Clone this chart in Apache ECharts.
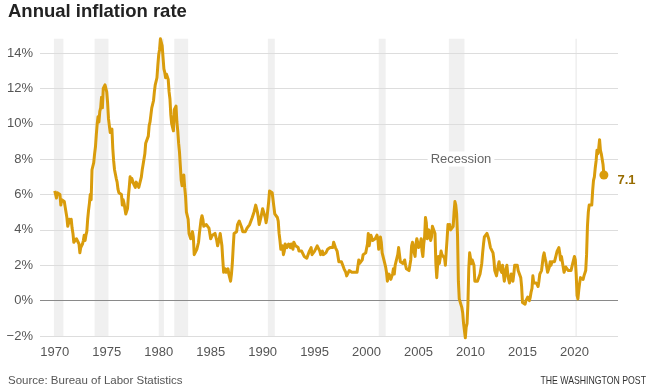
<!DOCTYPE html>
<html>
<head>
<meta charset="utf-8">
<script src="https://cdn.jsdelivr.net/npm/echarts@6/dist/echarts.min.js"></script>
<style>
html,body{margin:0;padding:0;background:#fff;}
#chart{width:654px;height:392px;}
</style>
</head>
<body>
<div id="chart"></div>
<script>
// Monthly year-over-year CPI change (%), starting January 1970
const startYear = 1970;
const cpi1970s = [
6.2,6.2,5.8,6.1,6.0,6.0,6.0,5.4,5.7,5.6,5.6,5.6,
5.3,5.0,4.7,4.2,4.4,4.6,4.4,4.6,4.1,3.8,3.3,3.3,
3.3,3.5,3.5,3.5,3.2,2.7,3.0,2.9,3.2,3.4,3.7,3.4,
3.7,3.9,4.6,5.1,5.5,6.0,5.7,7.4,7.4,7.8,8.3,8.7,
9.4,10.0,10.4,10.1,10.7,10.9,11.5,10.9,12.0,12.1,12.2,12.3,
11.8,11.2,10.3,10.2,9.5,9.4,9.7,8.6,7.9,7.4,7.4,6.9,
6.7,6.3,6.1,6.1,6.2,6.0,5.4,5.7,5.5,5.5,4.9,4.9,
5.2,5.9,6.4,7.0,6.7,6.9,6.8,6.6,6.6,6.4,6.7,6.7,
6.8,6.4,6.6,6.5,7.0,7.4,7.7,7.8,8.3,8.9,8.9,9.0,
9.3,9.9,10.1,10.5,10.9,10.9,11.3,11.8,12.2,12.1,12.6,13.3
];
const cpi1980s = [
13.9,14.2,14.8,14.7,14.4,14.4,13.1,12.9,12.6,12.8,12.7,12.5,
11.8,11.4,10.5,10.0,9.8,9.6,10.8,10.8,11.0,10.1,9.6,8.9,
8.4,7.6,6.8,6.5,6.7,7.1,6.4,5.9,5.0,5.1,4.6,3.8,
3.7,3.5,3.6,3.9,3.6,2.6,2.5,2.6,2.9,2.9,3.3,3.8,
4.2,4.6,4.8,4.6,4.2,4.2,4.2,4.3,4.3,4.3,4.1,4.0,
3.5,3.5,3.7,3.7,3.8,3.8,3.6,3.4,3.1,3.2,3.5,3.8,
3.9,3.1,2.3,1.6,1.5,1.8,1.6,1.6,1.8,1.5,1.3,1.1,
1.5,2.1,3.0,3.8,3.9,3.7,3.9,4.3,4.4,4.5,4.5,4.4,
4.1,3.9,3.9,3.9,3.9,4.0,4.1,4.0,4.2,4.3,4.3,4.4,
4.7,4.8,5.0,5.1,5.4,5.2,5.0,4.7,4.3,4.5,4.7,4.7
];
const cpi1990s = [
5.2,5.3,5.2,4.7,4.4,4.7,4.8,5.6,6.2,6.3,6.3,6.1,
5.7,5.3,4.9,4.9,5.0,4.7,4.5,3.8,3.4,2.9,3.0,3.1,
2.6,2.8,3.2,3.2,3.0,3.1,3.2,3.2,3.0,3.2,3.1,2.9,
3.3,3.3,3.1,3.2,3.2,3.0,2.8,2.8,2.7,2.8,2.7,2.8,
2.5,2.5,2.5,2.4,2.3,2.5,2.8,2.9,3.0,2.6,2.7,2.7,
2.8,2.9,2.9,3.1,3.2,3.0,2.8,2.6,2.5,2.8,2.6,2.5,
2.7,2.7,2.8,2.9,2.9,2.8,3.0,2.9,3.0,3.0,3.3,3.3,
3.0,3.0,2.8,2.5,2.2,2.3,2.2,2.2,2.2,2.1,1.8,1.7,
1.6,1.4,1.4,1.4,1.7,1.7,1.7,1.6,1.5,1.5,1.6,1.6,
1.7,1.6,1.7,2.3,2.1,2.0,2.1,2.3,2.6,2.6,2.6,2.7
];
const cpi2000s = [
2.7,3.2,3.8,3.1,3.2,3.7,3.7,3.4,3.5,3.5,3.5,3.4,
3.7,3.5,2.9,3.3,3.6,3.3,2.7,2.7,2.7,2.1,1.9,1.6,
1.1,1.1,1.5,1.6,1.2,1.1,1.5,1.8,1.5,2.0,2.2,2.4,
2.6,3.0,3.0,2.2,2.1,2.1,2.1,2.2,2.3,2.0,1.8,1.9,
1.9,1.7,1.7,2.3,3.1,3.3,3.0,2.7,2.5,3.2,3.5,3.3,
3.0,3.0,3.2,3.5,2.8,2.5,3.2,3.6,4.7,4.4,3.5,3.4,
4.0,3.6,3.4,3.6,4.2,4.3,4.2,3.8,2.1,1.3,2.0,2.5,
2.1,2.4,2.8,2.6,2.7,2.7,2.4,2.0,2.8,3.5,4.3,4.1,
4.3,4.0,4.0,3.9,4.2,5.0,5.6,5.4,4.9,3.7,1.1,0.1,
0.0,0.2,-0.4,-0.7,-1.3,-1.4,-2.1,-1.5,-1.3,-0.2,1.8,2.7
];
const cpi2010s = [
2.6,2.1,2.3,2.2,2.0,1.1,1.2,1.2,1.1,1.2,1.1,1.5,
1.6,2.1,2.7,3.2,3.6,3.6,3.6,3.8,3.9,3.5,3.4,3.0,
2.9,2.9,2.7,2.3,1.7,1.7,1.4,1.7,2.0,2.2,1.8,1.7,
1.6,2.0,1.5,1.1,1.4,1.8,2.0,1.5,1.2,1.0,1.2,1.5,
1.6,1.1,1.5,2.0,2.1,2.1,2.0,1.7,1.7,1.7,1.3,0.8,
-0.1,0.0,-0.1,-0.2,0.0,0.1,0.2,0.2,0.0,0.2,0.5,0.7,
1.4,1.0,0.9,1.1,1.0,1.0,0.8,1.1,1.5,1.6,1.7,2.1,
2.5,2.7,2.4,2.2,1.9,1.6,1.7,1.9,2.2,2.0,2.2,2.1,
2.1,2.2,2.4,2.5,2.8,2.9,3.0,2.7,2.3,2.5,2.2,1.9,
1.6,1.5,1.9,2.0,1.8,1.7,1.8,1.8,1.7,1.8,2.1,2.3
];
const cpi2020s = [
2.5,2.3,1.5,0.3,0.1,0.6,1.0,1.3,1.4,1.2,1.2,1.4,
1.4,1.7,2.6,4.2,5.0,5.4,5.4,5.3,5.4,6.2,6.8,7.0,
7.5,7.9,8.5,8.3,8.6,9.1,8.5,8.3,8.2,7.7,7.1
];

// NBER recessions (year-month)
const recessionStart = ['1969-12','1973-11','1980-01','1981-07','1990-07','2001-03','2007-12','2020-02'];
const recessionEnd   = ['1970-11','1975-03','1980-07','1982-11','1991-03','2001-11','2009-06','2020-04'];

const yearTicks = [1970,1975,1980,1985,1990,1995,2000,2005,2010,2015,2020];
const yTicks = [-2,0,2,4,6,8,10,12,14];

const allValues = [].concat(cpi1970s, cpi1980s, cpi1990s, cpi2000s, cpi2010s, cpi2020s);
const linePoints = allValues.map((v, i) => [startYear + i / 12, v]);
const lastPoint = linePoints[linePoints.length - 1];
const dataMax = Math.max.apply(null, allValues);

function ymToYear(s) { const p = s.split('-'); return +p[0] + (+p[1] - 1) / 12; }
const bands = recessionStart.map((s, i) => [ymToYear(s), ymToYear(recessionEnd[i]), yTicks[0], dataMax]);

const FONT = '"Liberation Sans", Arial, sans-serif';
const LINE = '#d99c0c';

const chart = echarts.init(document.getElementById('chart'), null, {renderer: 'canvas'});
chart.setOption({
  animation: false,
  backgroundColor: '#fff',
  textStyle: {fontFamily: FONT},
  title: {
    text: 'Annual inflation rate',
    left: 8, top: 2, padding: 0,
    textStyle: {fontFamily: FONT, fontSize: 18.5, fontWeight: 'bold', color: '#222'}
  },
  grid: {left: 40, right: 36, top: 53, bottom: 56, containLabel: false},
  xAxis: {
    type: 'value',
    min: 1968.58, max: 2024.19,
    axisLine: {show: false},
    axisTick: {show: false},
    splitLine: {show: false},
    axisLabel: {
      customValues: yearTicks,
      margin: 10,
      fontSize: 13, color: '#555', fontFamily: FONT,
      formatter: v => String(v)
    }
  },
  yAxis: {
    type: 'value',
    min: -2, max: 14, interval: 2,
    axisLine: {show: false},
    axisTick: {show: false},
    axisLabel: {
      margin: 7, fontSize: 13, color: '#555', fontFamily: FONT,
      formatter: v => (v < 0 ? '\u2212' + Math.abs(v) : v) + '%'
    },
    splitLine: {
      show: true,
      lineStyle: {
        color: yTicks.map(t => t === 0 ? '#8a8a8a' : '#dddddd'),
        width: 1
      }
    }
  },
  graphic: [
    {type: 'text', x: 8, y: 381, style: {text: 'Source: Bureau of Labor Statistics', font: '11.5px ' + FONT, fill: '#555', verticalAlign: 'middle'}},
    {type: 'text', x: 646, y: 381, scaleX: 0.83, originX: 0, originY: 0, style: {text: 'THE WASHINGTON POST', font: '10.5px ' + FONT, fill: '#333', align: 'right', verticalAlign: 'middle'}},
    {type: 'text', x: 461, y: 159, z: 10, style: {
      text: 'Recession', font: '13px ' + FONT, fill: '#666',
      align: 'center', verticalAlign: 'middle',
      backgroundColor: '#fff', padding: [1, 3]
    }}
  ],
  series: [
    {
      type: 'custom',
      z: -1,
      silent: true,
      clip: false,
      encode: {x: [0, 1], y: [2, 3]},
      data: bands,
      renderItem: function (params, api) {
        const p0 = api.coord([api.value(0), api.value(3)]);
        const p1 = api.coord([api.value(1), api.value(2)]);
        return {
          type: 'rect',
          shape: {x: p0[0], y: p0[1], width: Math.max(p1[0] - p0[0], 1.5), height: p1[1] - p0[1]},
          style: {fill: '#f0f0f0'}
        };
      }
    },
    {
      type: 'line',
      z: 3,
      data: linePoints,
      showSymbol: false,
      clip: false,
      lineStyle: {color: LINE, width: 3, join: 'round'},
      itemStyle: {color: LINE}
    },
    {
      type: 'scatter',
      z: 4,
      data: [lastPoint],
      symbolSize: 9,
      itemStyle: {color: LINE, opacity: 1},
      label: {
        show: true, position: 'right', distance: 9, offset: [0, 5],
        formatter: p => p.value[1].toFixed(1),
        fontFamily: FONT, fontSize: 13, fontWeight: 'bold', color: '#976c00', opacity: 1
      }
    }
  ]
});
</script>
</body>
</html>
